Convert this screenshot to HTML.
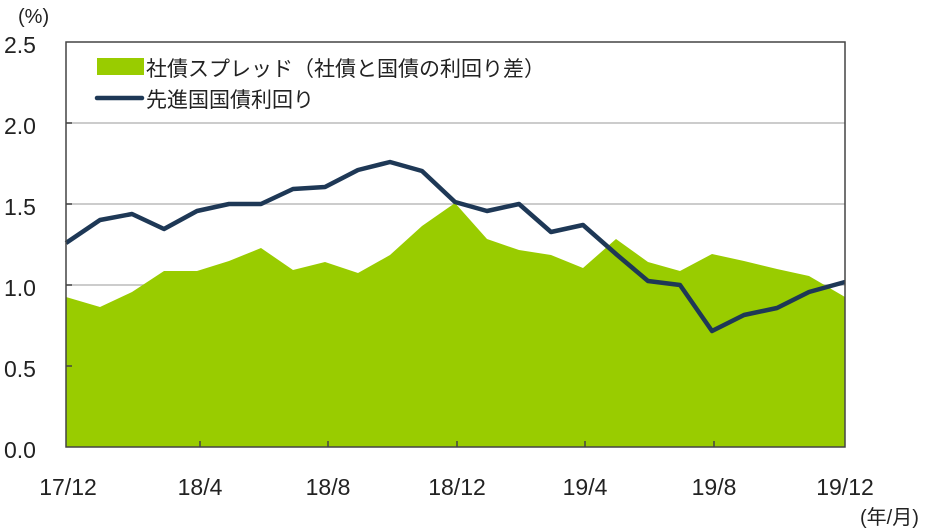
<!DOCTYPE html><html><head><meta charset="utf-8"><style>body{margin:0;background:#fff}svg{display:block}text{font-family:"Liberation Sans","Noto Sans CJK JP",sans-serif;fill:#222}</style></head><body>
<svg width="935" height="530" viewBox="0 0 935 530">
<g stroke="#bbb" stroke-width="1.5"><line x1="66" y1="123" x2="845" y2="123"/><line x1="66" y1="204" x2="845" y2="204"/><line x1="66" y1="285" x2="845" y2="285"/><line x1="66" y1="366" x2="845" y2="366"/></g>
<polygon fill="#99cc00" points="66,447 66,297 100,307 132,292 164,271 197,271 229,261 261,248 293,270 325,262 358,273 390,255 422,226 455,203 487,239 519,250 551,255 583,268 616,239 648,262 680,271 712,254 744,261 777,269 809,276 845,297 845,447"/>
<polyline fill="none" stroke="#1e3856" stroke-width="4.5" stroke-linejoin="round" points="66,243 100,220 132,214 164,229 197,211 229,204 261,204 293,189 325,187 358,170 390,162 422,171 455,202 487,211 519,204 551,232 583,225 616,254 648,281 680,285 712,331 744,315 777,308 809,292 845,282"/>
<rect x="66" y="42" width="779" height="405" fill="none" stroke="#444" stroke-width="1.5"/>
<g stroke="#444" stroke-width="1.5"><line x1="66" y1="123" x2="72" y2="123"/><line x1="66" y1="204" x2="72" y2="204"/><line x1="66" y1="285" x2="72" y2="285"/><line x1="66" y1="366" x2="72" y2="366"/>
<line x1="200" y1="441" x2="200" y2="447"/><line x1="328" y1="441" x2="328" y2="447"/><line x1="457" y1="441" x2="457" y2="447"/><line x1="585" y1="441" x2="585" y2="447"/><line x1="714" y1="441" x2="714" y2="447"/></g>
<g font-size="23"><text x="4" y="53">2.5</text><text x="4" y="134">2.0</text><text x="4" y="215">1.5</text><text x="4" y="296">1.0</text><text x="4" y="377">0.5</text><text x="4" y="458">0.0</text></g>
<text x="18" y="23" font-size="20">(%)</text>
<g font-size="23" text-anchor="middle"><text x="68" y="495">17/12</text><text x="200" y="495">18/4</text><text x="328" y="495">18/8</text><text x="457" y="495">18/12</text><text x="585" y="495">19/4</text><text x="714" y="495">19/8</text><text x="845" y="495">19/12</text></g>
<text x="860" y="524" font-size="20">(年/月)</text>
<rect x="97" y="58" width="47" height="17" fill="#99cc00"/>
<text x="146" y="76" font-size="21">社債スプレッド（社債と国債の利回り差）</text>
<line x1="97" y1="98" x2="142" y2="98" stroke="#1e3856" stroke-width="4.5" stroke-linecap="round"/>
<text x="146" y="107" font-size="21">先進国国債利回り</text>
</svg></body></html>
